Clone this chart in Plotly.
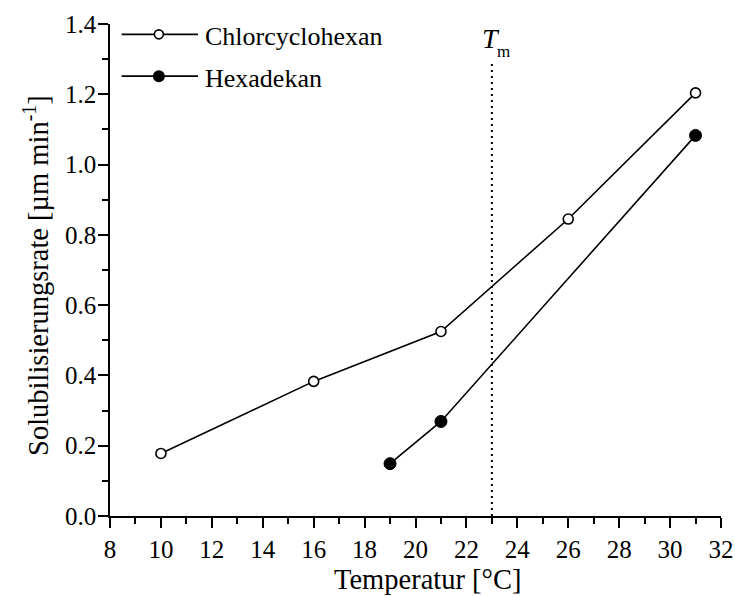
import plotly.graph_objects as go

# Data
temp_chlor = [10, 16, 21, 26, 31]
rate_chlor = [0.178, 0.383, 0.525, 0.845, 1.204]
temp_hexa = [19, 21, 31]
rate_hexa = [0.149, 0.269, 1.083]
t_m = 23
t_m_top = 1.29

x_ticks = list(range(8, 33, 2))
y_ticks = [0.0, 0.2, 0.4, 0.6, 0.8, 1.0, 1.2, 1.4]

FONT = "Liberation Serif"

fig = go.Figure()
fig.add_trace(go.Scatter(
    x=temp_chlor, y=rate_chlor, mode="lines+markers", name="Chlorcyclohexan",
    line=dict(color="black", width=1.6),
    marker=dict(symbol="circle", size=10, color="white", line=dict(color="black", width=1.6)),
    showlegend=False))
fig.add_trace(go.Scatter(
    x=temp_hexa, y=rate_hexa, mode="lines+markers", name="Hexadekan",
    line=dict(color="black", width=1.6),
    marker=dict(symbol="circle", size=12, color="black", line=dict(color="black", width=1)),
    showlegend=False))

# Tm line
fig.add_shape(type="line", x0=t_m, x1=t_m, y0=0, y1=t_m_top, xref="x", yref="y",
              line=dict(color="black", width=2, dash="2px,4px"))
fig.add_annotation(x=t_m, y=t_m_top, xref="x", yref="y", xshift=-1, yshift=24.5,
                   text="<i>T</i>", showarrow=False, xanchor="center", yanchor="middle",
                   font=dict(family=FONT, size=28, color="black"))
fig.add_annotation(x=t_m, y=t_m_top, xref="x", yref="y", xshift=12, yshift=11,
                   text="m", showarrow=False, xanchor="center", yanchor="middle",
                   font=dict(family=FONT, size=17, color="black"))

# Manual legend
legend_rows = [("Chlorcyclohexan", 0.979, "white", 9), ("Hexadekan", 0.894, "black", 12)]
for label, yy, fill, sz in legend_rows:
    fig.add_shape(type="line", xref="paper", yref="paper", x0=0.019, x1=0.144, y0=yy, y1=yy,
                  line=dict(color="black", width=1.6))
    fig.add_shape(type="circle", xref="paper", yref="paper", xsizemode="pixel", ysizemode="pixel",
                  xanchor=0.080, yanchor=yy, x0=-sz/2, x1=sz/2, y0=-sz/2, y1=sz/2,
                  fillcolor=fill, line=dict(color="black", width=1.6 if fill == "white" else 0))
    fig.add_annotation(x=0.153, y=yy, xref="paper", yref="paper", yshift=-2, text=label, showarrow=False,
                       xanchor="left", yanchor="middle", font=dict(family=FONT, size=26, color="black"))

# Axis titles
fig.add_annotation(x=0.519, y=-0.1287, xref="paper", yref="paper", text="Temperatur [°C]",
                   showarrow=False, xanchor="center", yanchor="middle",
                   font=dict(family=FONT, size=28.5, color="black"))
fig.add_annotation(x=-0.121, y=0.488, xref="paper", yref="paper", textangle=-90,
                   text="Solubilisierungsrate [µm min<sup>-1</sup>]",
                   showarrow=False, xanchor="center", yanchor="middle",
                   font=dict(family=FONT, size=28.5, color="black"))

axis_common = dict(showline=True, linecolor="black", linewidth=1.6, ticks="outside",
                   tickcolor="black", tickwidth=1.6, ticklen=10, showgrid=False, zeroline=False,
                   tickfont=dict(family=FONT, size=25, color="black"),
                   ticklabeloverflow="allow", automargin=False, mirror=False)
fig.update_xaxes(range=[8, 32], tickvals=x_ticks, ticktext=[str(v) for v in x_ticks],
                 minor=dict(dtick=1, ticks="outside", ticklen=6, tickwidth=1.6, tickcolor="black", showgrid=False),
                 **axis_common)
fig.update_yaxes(range=[0, 1.4], tickvals=y_ticks, ticktext=[f"{v:.1f}" for v in y_ticks],
                 minor=dict(dtick=0.1, ticks="outside", ticklen=6, tickwidth=1.6, tickcolor="black", showgrid=False),
                 ticklabelstandoff=-3,
                 **axis_common)

fig.update_layout(width=735, height=596, plot_bgcolor="white", paper_bgcolor="white",
                  font=dict(family=FONT, size=25, color="black"),
                  margin=dict(l=110, r=14, t=24, b=80), showlegend=False)

fig.write_html("out.html")
